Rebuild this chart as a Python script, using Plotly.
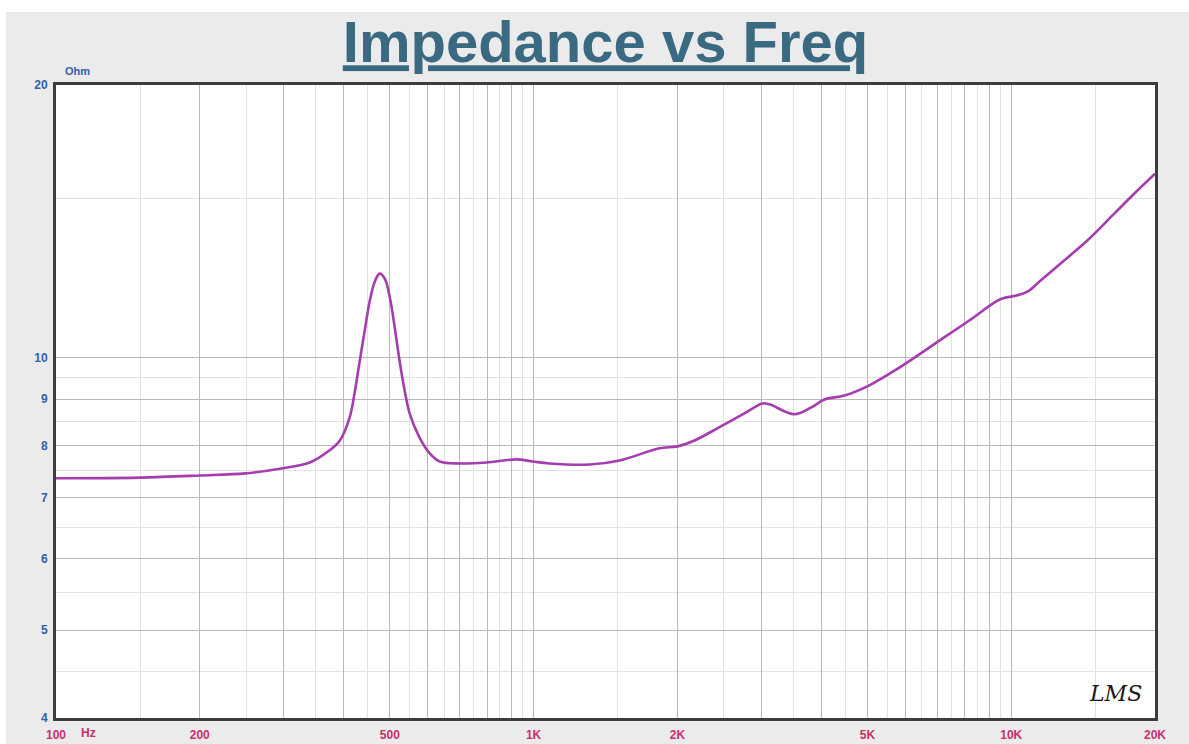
import math
import plotly.graph_objects as go

# ---- data ----
freq_hz = [100, 150, 200, 249, 294, 340, 374, 393, 412, 422, 432, 443, 454, 465, 476,
           488, 500, 512, 524, 537, 550, 577, 606, 636, 700, 797, 921, 995, 1080, 1310,
           1514, 1835, 2001, 2172, 2450, 2763, 3014, 3116, 3516, 3815, 4063, 4473, 5045,
           5832, 7071, 8168, 9213, 9577, 10392, 10906, 11445, 12908, 14564, 16431, 18089, 20000]
impedance_ohm = [7.36, 7.37, 7.41, 7.45, 7.54, 7.66, 7.90, 8.10, 8.59, 9.15, 9.88, 10.71, 11.56, 12.13, 12.38,
                 12.22, 11.65, 10.79, 9.92, 9.20, 8.68, 8.16, 7.84, 7.68, 7.64, 7.66, 7.72, 7.68, 7.64, 7.62,
                 7.70, 7.94, 7.98, 8.10, 8.38, 8.68, 8.90, 8.88, 8.66, 8.81, 8.99, 9.08, 9.32,
                 9.75, 10.44, 10.99, 11.50, 11.62, 11.73, 11.86, 12.13, 12.80, 13.53, 14.42, 15.17, 15.96]

x_major_vals = [100, 200, 300, 400, 500, 600, 700, 800, 900, 1000,
                2000, 3000, 4000, 5000, 6000, 7000, 8000, 9000, 10000, 20000]
x_major_text = ["100", "200", "", "", "500", "", "", "", "", "1K",
                "2K", "", "", "5K", "", "", "", "", "10K", "20K"]
x_minor_vals = [150, 250, 350, 450, 550, 650, 750, 850, 950,
                1500, 2500, 3500, 4500, 5500, 6500, 7500, 8500, 9500, 15000]
y_major_vals = [4, 5, 6, 7, 8, 9, 10, 20]
y_major_text = ["4", "5", "6", "7", "8", "9", "10", "20"]
y_minor_vals = [4.5, 5.5, 6.5, 7.5, 8.5, 9.5, 15]

W, H = 1189, 744
L, R, T, B = 56, 1155, 85, 718
pw, ph = R - L, B - T


def px(xp):
    return (xp - L) / pw


def py(yp):
    return (B - yp) / ph


FONT = "Liberation Sans, Arial, sans-serif"

fig = go.Figure()
fig.add_trace(go.Scatter(
    x=freq_hz, y=impedance_ohm, mode="lines",
    line=dict(color="#a53cb0", width=2.6, shape="spline", smoothing=1.0),
    hoverinfo="x+y", showlegend=False,
))

fig.update_layout(
    width=W, height=H, autosize=False,
    margin=dict(l=L, r=W - R, t=T, b=H - B, autoexpand=False),
    paper_bgcolor="#ebebeb",
    plot_bgcolor="#ffffff",
    title=dict(
        text="Impedance vs Freq",
        font=dict(family=FONT, size=58, color="#3a6a82", weight="bold", lineposition="under"),
        x=px((L + R) / 2), xref="paper", xanchor="center",
        y=1 - 42 / H, yref="container", yanchor="middle",
    ),
    xaxis=dict(
        type="log", range=[2, math.log10(20000)], automargin=False,
        tickmode="array", tickvals=x_major_vals, ticktext=x_major_text,
        showgrid=True, gridcolor="#b9b9b9", gridwidth=1.3,
        ticks="", ticklabelstandoff=4,
        tickfont=dict(family=FONT, size=12, color="#c8306c", weight="bold"),
        minor=dict(tickmode="array", tickvals=x_minor_vals, showgrid=True,
                   gridcolor="#e2e2e2", gridwidth=1.2, ticks=""),
        showline=True, linecolor="#3c3c3c", linewidth=3, mirror=True,
        zeroline=False,
    ),
    yaxis=dict(
        type="log", range=[math.log10(4), math.log10(20)], automargin=False,
        tickmode="array", tickvals=y_major_vals, ticktext=y_major_text,
        showgrid=True, gridcolor="#b9b9b9", gridwidth=1.3,
        ticks="", ticklabelstandoff=3,
        tickfont=dict(family=FONT, size=12, color="#2f62a8", weight="bold"),
        minor=dict(tickmode="array", tickvals=y_minor_vals, showgrid=True,
                   gridcolor="#e2e2e2", gridwidth=1.2, ticks=""),
        showline=True, linecolor="#3c3c3c", linewidth=3, mirror=True,
        zeroline=False,
    ),
    shapes=[
        # thin white border of the original image (top and left)
        dict(type="rect", xref="paper", yref="paper", x0=px(0), x1=px(W), y0=py(12), y1=py(0),
             fillcolor="#ffffff", line=dict(width=0), layer="above"),
        dict(type="rect", xref="paper", yref="paper", x0=px(0), x1=px(6), y0=py(H), y1=py(0),
             fillcolor="#ffffff", line=dict(width=0), layer="above"),
    ],
    annotations=[
        dict(text="Ohm", xref="paper", yref="paper", x=px(77), y=py(71),
             showarrow=False, xanchor="center", yanchor="middle",
             font=dict(family=FONT, size=11, color="#2f62a8", weight="bold")),
        dict(text="Hz", xref="paper", yref="paper", x=px(88), y=py(733),
             showarrow=False, xanchor="center", yanchor="middle",
             font=dict(family=FONT, size=12, color="#c8306c", weight="bold")),
        dict(text="LMS", xref="paper", yref="paper", x=px(1115), y=py(693),
             showarrow=False, xanchor="center", yanchor="middle",
             font=dict(family="DejaVu Serif, serif", size=22, color="#1a1a1a", style="italic")),
    ],
)

fig.write_html(
    "out.html",
    config={"responsive": False, "displayModeBar": False},
    post_script="document.body.style.margin='0';document.body.style.padding='0';"
                "document.body.style.overflow='hidden';",
)
